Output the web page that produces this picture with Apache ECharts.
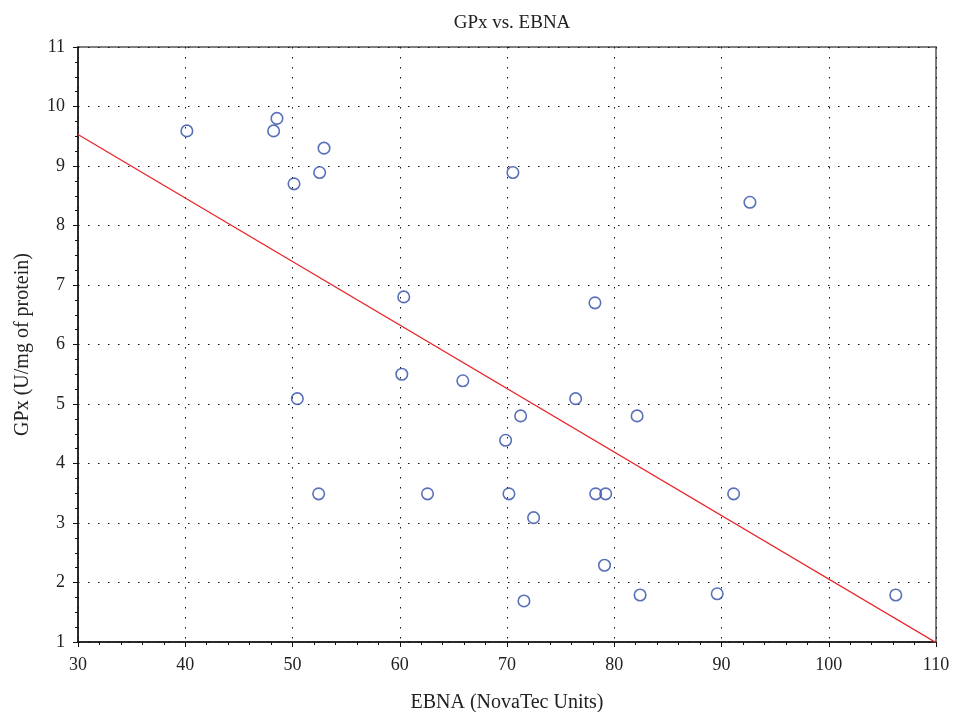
<!DOCTYPE html>
<html>
<head>
<meta charset="utf-8">
<script src="https://cdn.jsdelivr.net/npm/echarts@6/dist/echarts.min.js"></script>
<style>html,body{margin:0;padding:0;background:#fff}#c{width:955px;height:712px}</style>
</head>
<body>
<div id="c"></div>
<script>
const ebna = [40.15, 48.55, 48.24, 52.94, 52.53, 50.14, 70.55, 92.65, 60.37, 78.2, 60.19, 65.88, 50.45, 76.4, 71.27, 82.13, 69.87, 52.44, 62.59, 70.18, 78.27, 79.2, 91.13, 72.48, 79.09, 71.58, 82.41, 89.6, 106.25];
const gpx  = [9.59, 9.80, 9.59, 9.30, 8.89, 8.70, 8.89, 8.39, 6.80, 6.70, 5.50, 5.39, 5.09, 5.09, 4.80, 4.80, 4.39, 3.49, 3.49, 3.49, 3.49, 3.49, 3.49, 3.09, 2.29, 1.69, 1.79, 1.81, 1.79];
const fitX = [30, 110];
const fitY = [9.53, 0.99];
const xTicks = [30, 40, 50, 60, 70, 80, 90, 100, 110];
const yTicks = [1, 2, 3, 4, 5, 6, 7, 8, 9, 10, 11];

const serif = '"Liberation Serif", "DejaVu Serif", serif';
const chart = echarts.init(document.getElementById('c'), null, {renderer: 'canvas'});
chart.setOption({
  animation: false,
  backgroundColor: '#fff',
  title: {
    text: 'GPx vs. EBNA', left: 507, top: 9, textAlign: 'center',
    textStyle: {fontFamily: serif, fontSize: 19, fontWeight: 'normal', color: '#222'}
  },
  grid: {left: 78, right: 19, top: 47, bottom: 70, containLabel: false, outerBoundsMode: 'none',
         show: true, borderColor: '#555', borderWidth: 1.5, backgroundColor: 'transparent'},
  xAxis: {
    type: 'value', min: xTicks[0], max: xTicks[xTicks.length - 1], interval: 10,
    name: 'EBNA (NovaTec Units)', nameLocation: 'middle', nameGap: 51,
    nameTextStyle: {fontFamily: serif, fontSize: 20, color: '#222'},
    axisLine: {show: true, onZero: false, lineStyle: {color: '#111', width: 1.5}},
    axisTick: {show: true, inside: false, length: 5, lineStyle: {color: '#111'}},
    minorTick: {show: true, splitNumber: 5, length: 3, lineStyle: {color: '#111'}},
    axisLabel: {fontFamily: serif, fontSize: 18, color: '#222', margin: 14},
    splitLine: {show: true, lineStyle: {color: '#111', type: [1.5, 8.5], width: 1}}
  },
  yAxis: {
    type: 'value', min: yTicks[0], max: yTicks[yTicks.length - 1], interval: 1,
    name: 'GPx (U/mg of protein)', nameLocation: 'middle', nameGap: 45, nameRotate: 90,
    nameTextStyle: {fontFamily: serif, fontSize: 20, color: '#222'},
    axisLine: {show: true, onZero: false, lineStyle: {color: '#111', width: 1.5}},
    axisTick: {show: true, inside: false, length: 5, lineStyle: {color: '#111'}},
    minorTick: {show: true, splitNumber: 4, length: 3, lineStyle: {color: '#111'}},
    axisLabel: {fontFamily: serif, fontSize: 18, color: '#222', margin: 13},
    splitLine: {show: true, lineStyle: {color: '#111', type: [1.5, 8.5], width: 1}}
  },
  series: [
    {
      type: 'line', data: fitX.map((x, i) => [x, fitY[i]]), showSymbol: false, symbol: 'none',
      lineStyle: {color: '#e8262b', width: 1.3}, clip: true, z: 2
    },
    {
      type: 'scatter', data: ebna.map((x, i) => [x, gpx[i]]), symbol: 'circle', symbolSize: 11.5,
      itemStyle: {color: 'rgba(255,255,255,0)', borderColor: '#2f4ca8', borderWidth: 1.6}, z: 3
    }
  ]
});
</script>
</body>
</html>
